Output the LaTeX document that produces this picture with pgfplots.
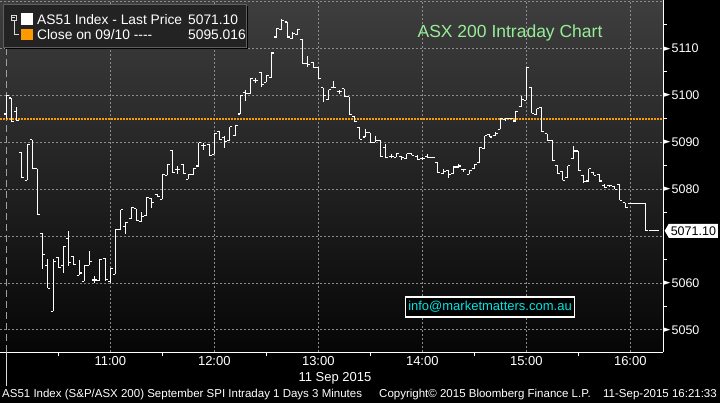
\documentclass[border=0pt]{standalone}
\usepackage{fontspec}
\setmainfont{Liberation Sans}
\newfontfamily\sym{DejaVu Sans}
\newfontfamily\arial{Liberation Sans}
\usepackage{pgfplots}
\usepackage{pgfplotstable}
\pgfplotsset{compat=1.18}
\usetikzlibrary{shapes.symbols}
\definecolor{bgtop}{RGB}{62,62,62}
\definecolor{bgbot}{RGB}{6,6,6}
\definecolor{gridc}{RGB}{140,140,140}
\definecolor{orng}{RGB}{255,153,0}
\definecolor{lgreen}{RGB}{150,238,150}
\definecolor{cyant}{RGB}{0,230,230}
\definecolor{legbg}{RGB}{35,35,35}
\definecolor{legbd}{RGB}{95,95,95}
\pgfdeclareplotmark{otick}{\pgfpathmoveto{\pgfqpoint{-2.5pt}{0pt}}\pgfpathlineto{\pgfqpoint{0pt}{0pt}}\pgfusepathqstroke}
\pgfdeclareplotmark{ctick}{\pgfpathmoveto{\pgfqpoint{0pt}{0pt}}\pgfpathlineto{\pgfqpoint{2.5pt}{0pt}}\pgfusepathqstroke}
\newcommand\tri{\raisebox{1.6pt}{\sym\fontsize{9}{9}\selectfont\char"25BA}\kern1pt}

% 3-minute bars, t = minutes after 10:00
\pgfplotstableread{
t o h l c
0 5096.0 5100.1 5095.0 5100.0
3 5099.4 5099.4 5094.3 5094.3
6 5096.5 5097.5 5094.6 5094.6
9 5087.7 5087.7 5082.4 5082.4
12 5081.9 5089.4 5081.9 5089.4
15 5090.5 5090.5 5084.3 5084.3
18 5084.3 5084.3 5074.6 5074.6
21 5070.5 5070.5 5063.0 5066.1
24 5063.6 5065.0 5058.8 5058.8
27 5053.9 5065.0 5053.9 5064.6
30 5065.4 5065.4 5063.2 5063.2
33 5063.7 5067.7 5062.2 5067.7
36 5069.5 5071.0 5063.6 5064.4
39 5065.7 5065.7 5063.9 5063.9
42 5061.6 5064.8 5061.6 5062.1
45 5060.3 5063.7 5060.3 5063.7
48 5063.7 5066.7 5063.7 5064.6
51 5060.6 5061.4 5060.0 5060.6
54 5060.4 5065.0 5060.4 5065.0
57 5065.2 5065.2 5060.4 5060.8
60 5060.2 5063.1 5060.0 5063.1
63 5061.8 5071.4 5061.8 5071.4
66 5071.3 5075.6 5071.3 5075.6
69 5072.1 5072.9 5070.4 5072.9
72 5073.7 5076.0 5073.7 5076.0
75 5075.8 5075.8 5073.2 5073.2
78 5073.1 5075.0 5072.9 5074.1
81 5074.3 5078.2 5074.3 5078.2
84 5078.0 5078.0 5076.0 5077.1
87 5078.9 5078.9 5078.4 5078.4
90 5077.8 5083.1 5077.8 5083.1
93 5082.9 5085.3 5082.9 5085.3
96 5088.2 5088.2 5083.5 5083.5
99 5084.1 5085.0 5083.3 5084.1
102 5085.3 5085.3 5083.3 5083.3
105 5082.1 5083.0 5082.1 5083.0
108 5083.0 5084.3 5083.0 5084.3
111 5084.9 5089.9 5084.9 5089.9
114 5089.2 5089.9 5088.4 5089.2
117 5089.5 5089.5 5087.2 5087.2
120 5087.4 5091.8 5087.4 5091.8
123 5092.3 5092.3 5090.4 5090.6
126 5090.9 5091.3 5088.8 5090.2
129 5090.4 5093.3 5090.4 5093.3
132 5091.4 5093.6 5091.4 5093.6
135 5096.0 5099.9 5096.0 5099.9
138 5100.5 5101.2 5098.7 5100.4
141 5100.3 5103.6 5100.3 5103.6
144 5103.1 5103.7 5102.5 5103.1
147 5104.9 5104.9 5101.8 5102.3
150 5102.8 5104.2 5102.8 5104.2
153 5103.7 5109.0 5103.7 5109.0
156 5112.4 5114.3 5112.4 5114.3
159 5114.1 5116.3 5113.9 5116.0
162 5115.6 5115.6 5112.4 5112.4
165 5112.0 5113.4 5112.0 5113.1
168 5112.9 5114.0 5112.9 5114.0
171 5111.9 5111.9 5106.7 5106.7
174 5106.7 5108.3 5106.0 5106.5
177 5107.0 5107.0 5106.0 5106.0
180 5106.0 5106.0 5103.5 5103.5
183 5101.6 5101.6 5098.5 5099.9
186 5099.1 5101.2 5099.1 5101.2
189 5101.6 5103.0 5101.6 5101.6
192 5100.7 5101.2 5100.3 5100.7
195 5101.4 5101.4 5099.7 5099.7
198 5099.7 5099.7 5095.8 5095.8
201 5095.4 5095.4 5094.3 5094.3
204 5093.1 5093.1 5090.6 5090.6
207 5091.1 5092.7 5091.1 5092.0
210 5092.0 5092.0 5089.9 5089.9
213 5090.0 5091.4 5090.0 5090.4
216 5090.4 5090.4 5086.9 5086.9
219 5088.8 5089.5 5086.7 5086.7
222 5087.0 5087.4 5086.7 5087.0
225 5086.8 5087.5 5086.8 5087.5
228 5087.0 5087.0 5086.2 5086.7
231 5086.5 5087.5 5086.5 5087.5
234 5087.5 5087.5 5087.2 5087.2
237 5086.9 5087.2 5086.3 5086.3
240 5086.6 5086.8 5086.1 5086.6
243 5086.9 5087.5 5086.6 5086.7
246 5086.8 5086.9 5086.6 5086.7
249 5085.7 5085.7 5083.5 5083.5
252 5083.3 5084.2 5083.3 5083.8
255 5084.0 5084.0 5082.3 5083.1
258 5083.3 5084.7 5083.3 5084.7
261 5084.7 5085.4 5084.7 5084.9
264 5084.2 5084.2 5083.6 5084.2
267 5083.1 5084.0 5083.1 5084.0
270 5084.3 5085.3 5084.3 5085.3
273 5085.6 5088.8 5085.6 5088.8
276 5088.6 5091.4 5088.6 5091.4
279 5091.6 5091.6 5091.1 5091.1
282 5091.4 5092.1 5091.4 5091.8
285 5092.7 5095.0 5092.7 5095.0
288 5094.8 5095.1 5094.7 5095.0
291 5095.1 5095.2 5095.0 5095.1
294 5094.5 5096.6 5094.5 5096.6
297 5097.5 5099.9 5097.5 5099.1
300 5098.9 5105.9 5098.9 5105.9
303 5101.6 5101.6 5096.1 5096.1
306 5095.9 5097.1 5095.9 5097.1
309 5097.3 5097.3 5092.2 5092.2
312 5091.8 5091.8 5090.4 5090.4
315 5090.4 5090.4 5086.1 5086.1
318 5085.0 5085.0 5083.3 5083.3
321 5083.8 5083.8 5081.9 5081.9
324 5082.4 5085.0 5082.4 5085.0
327 5086.5 5089.1 5086.5 5088.1
330 5088.1 5088.1 5084.0 5084.0
333 5082.8 5082.8 5081.2 5081.6
336 5081.7 5084.3 5081.7 5084.3
339 5083.5 5083.5 5082.9 5082.9
342 5083.1 5083.1 5081.7 5081.7
345 5080.7 5081.0 5080.4 5080.4
348 5080.7 5080.8 5080.6 5080.7
351 5080.5 5080.5 5079.9 5079.9
354 5081.0 5081.0 5077.6 5077.6
357 5077.1 5077.1 5076.0 5076.0
360 5076.97 5076.97 5076.97 5076.97
363 5076.97 5076.97 5076.97 5076.97
366 5076.97 5076.97 5076.97 5076.97
369 5076.97 5076.97 5071.1 5071.1
372 5071.1 5071.1 5071.1 5071.1
375 5071.1 5071.1 5071.1 5071.1
}\ohlc

\begin{document}
\begin{tikzpicture}
\fill[black] (0,0) rectangle (720pt,-403pt);
\begin{axis}[
  at={(0pt,0pt)}, anchor=north west,
  scale only axis, width=663pt, height=352pt,
  xmin=-3.63, xmax=378.87, ymin=5045.25, ymax=5120.3,
  axis background/.style={top color=bgtop, bottom color=bgbot},
  axis x line*=bottom, axis y line*=right,
  axis line style={white, line width=1pt, -},
  xtick={60,120,180,240,300,360},
  xticklabels={11:00,12:00,13:00,14:00,15:00,16:00},
  minor xtick={30,90,150,210,270,330},
  ytick={5050,5060,5070,5080,5090,5100,5110},
  yticklabels={\tri5050,\tri5060,{},\tri5080,\tri5090,\tri5100,\tri5110},
  minor ytick={5055,5065,5075,5085,5095,5105,5115},
  extra y ticks={5120}, extra y tick labels={},
  grid=major,
  major grid style={gridc, line width=0.6pt, dash pattern=on 2pt off 2pt},
  tick style={white, line width=0.8pt},
  major tick length=0pt, minor tick length=3.5pt, tick align=outside,
  xticklabel style={text=white, font=\fontsize{13}{15}\selectfont, yshift=-1pt},
  yticklabel style={text=white, font=\fontsize{12.5}{14}\selectfont, anchor=west, inner sep=0pt, xshift=0.5pt},
  clip mode=individual,
]
\draw[gray!75, line width=0.8pt, dash pattern=on 7pt off 4pt] (axis cs:0,5045.25) -- (axis cs:0,5120.3);
\addplot[orng, line width=2pt, dash pattern=on 1.7pt off 1.3pt] coordinates {(-3.63,5095.016) (378.87,5095.016)};
\addplot[white, only marks, mark=otick, mark options={line width=1.1pt},
  error bars/.cd, y dir=both, y explicit, error mark=none,
  error bar style={white, line width=1.1pt}]
  table[x=t, y=o, y error plus expr=\thisrow{h}-\thisrow{o}, y error minus expr=\thisrow{o}-\thisrow{l}] {\ohlc};
\addplot[white, only marks, mark=ctick, mark options={line width=1.1pt}]
  table[x=t, y=c] {\ohlc};
\coordinate (lp) at (axis cs:378.87,5071.1);
\end{axis}
% day separator below the axis
\draw[white!85!black, line width=0.8pt] (6.3pt,-352pt) -- (6.3pt,-386pt);
% last price marker
\node[signal, signal to=west, signal pointer angle=120, fill=white, text=black, inner xsep=2pt, inner ysep=1pt,
  minimum height=14pt, anchor=west, font=\fontsize{12.5}{14}\selectfont] at ([xshift=1.5pt]lp) {5071.10};
% legend box
\fill[black] (5pt,-6pt) rectangle (248pt,-49pt);
\draw[fill=legbg, draw=legbd, line width=0.8pt] (3pt,-4pt) rectangle (246pt,-47pt);
\draw[white!85!black, line width=0.7pt] (11pt,-15pt) rectangle (16.7pt,-20.7pt);
\draw[white!85!black, line width=0.7pt] (12.4pt,-17.85pt) -- (15.3pt,-17.85pt);
\draw[white!85!black, line width=0.7pt] (13.85pt,-20.7pt) -- (13.85pt,-34pt) -- (19pt,-34pt);
\fill[white] (21pt,-13.5pt) rectangle (32.5pt,-25pt);
\fill[orng] (21pt,-29pt) rectangle (32.5pt,-40.5pt);
\begin{scope}[every node/.style={text=white, font=\fontsize{13.8}{16}\selectfont, inner sep=0pt}]
\node[anchor=west] at (37pt,-19.5pt) {AS51 Index - Last Price};
\node[anchor=west] at (188pt,-19.5pt) {5071.10};
\node[anchor=west] at (37pt,-35pt) {Close on 09/10 -{}-{}-{}-};
\node[anchor=west] at (188pt,-35pt) {5095.016};
\end{scope}
% title
\node[text=lgreen, font=\fontsize{17.5}{20}\selectfont] at (510pt,-33pt) {ASX 200 Intraday Chart};
% info box
\node[draw=white, line width=1.2pt, fill=black, text=cyant, font=\arial\fontsize{13}{15}\selectfont,
  inner xsep=2.5pt, inner ysep=0pt, minimum height=20pt] at (490pt,-307pt) {info@marketmatters.com.au};
% axis caption and footer
\node[text=white, font=\fontsize{13}{15}\selectfont] at (335pt,-378pt) {11 Sep 2015};
\begin{scope}[every node/.style={text=white, font=\fontsize{11.5}{13}\selectfont, inner sep=0pt}]
\node[anchor=west] at (2pt,-395pt) {AS51 Index (S\&P/ASX 200) September SPI Intraday 1 Days 3 Minutes};
\node[anchor=west] at (379pt,-395pt) {Copyright\textcopyright{} 2015 Bloomberg Finance L.P.};
\node[anchor=east] at (717pt,-395pt) {11-Sep-2015 16:21:33};
\end{scope}
\pgfresetboundingbox
\useasboundingbox (0,0) rectangle (720pt,-403pt);
\end{tikzpicture}
\end{document}
